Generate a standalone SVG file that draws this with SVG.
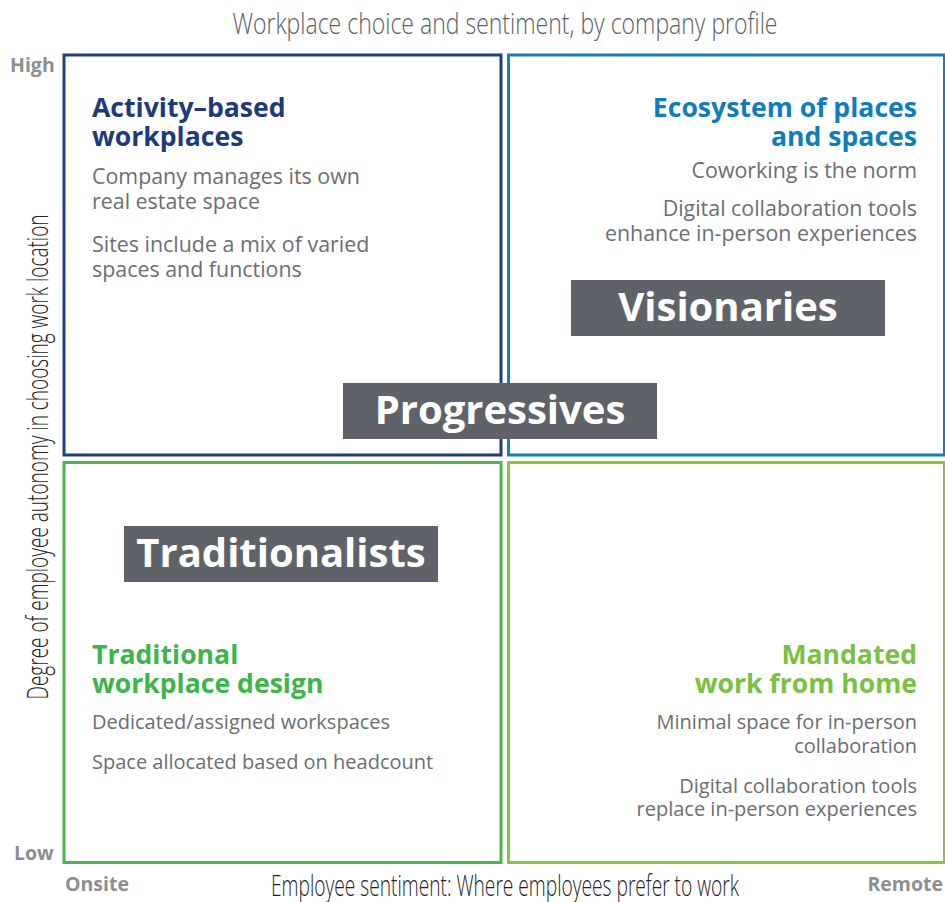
<svg xmlns="http://www.w3.org/2000/svg" width="945" height="902" viewBox="0 0 945 902">
<style>
.q{fill:#fff;stroke-width:3}
.hd{font-family:"Open Sans","Liberation Sans",sans-serif;font-weight:700;font-size:26.6px}
.bd{font-family:"Open Sans","Liberation Sans",sans-serif;font-size:20px;fill:#6b6e73}
.bl{font-size:21.4px}
.tag rect{fill:#5f6369}
.tag text{font-family:"Open Sans","Liberation Sans",sans-serif;font-weight:700;font-size:40px;fill:#fff;text-anchor:middle}
.ax{font-family:"Open Sans","Liberation Sans",sans-serif;font-weight:300;font-size:30px}
.lv{font-family:"Open Sans","Liberation Sans",sans-serif;font-weight:700;font-size:19.5px;fill:#8c8e91}
.r{text-anchor:end}
</style>
<rect width="945" height="902" fill="#fff"/>
<text class="ax" x="505" y="34" text-anchor="middle" fill="#5a5d61" textLength="545" lengthAdjust="spacingAndGlyphs">Workplace choice and sentiment, by company profile</text>
<text class="ax" transform="translate(48,457) rotate(-90)" text-anchor="middle" fill="#222" font-size="28" textLength="485" lengthAdjust="spacingAndGlyphs">Degree of employee autonomy in choosing work location</text>
<text class="ax" x="505" y="896" text-anchor="middle" fill="#222" font-size="28" textLength="468" lengthAdjust="spacingAndGlyphs">Employee sentiment: Where employees prefer to work</text>
<text class="lv" x="10" y="72">High</text>
<text class="lv" x="14" y="860">Low</text>
<text class="lv" x="65" y="891">Onsite</text>
<text class="lv" x="943" y="891" text-anchor="end">Remote</text>
<g id="activity-based">
<rect class="q" x="64" y="55" width="437" height="400" stroke="#1e3f7c"/>
<text class="hd" fill="#1e3a78"><tspan x="92" y="117">Activity–based</tspan><tspan x="92" y="146">workplaces</tspan></text>
<text class="bd bl"><tspan x="92" y="184">Company manages its own</tspan><tspan x="92" y="209">real estate space</tspan><tspan x="92" y="252">Sites include a mix of varied</tspan><tspan x="92" y="277">spaces and functions</tspan></text>
</g>
<g id="ecosystem">
<rect class="q" x="508.5" y="55" width="436" height="400" stroke="#1a7db3"/>
<text class="hd r" fill="#0f7db8"><tspan x="917" y="117">Ecosystem of places</tspan><tspan x="917" y="146">and spaces</tspan></text>
<text class="bd bl r"><tspan x="917" y="178">Coworking is the norm</tspan><tspan x="917" y="216">Digital collaboration tools</tspan><tspan x="917" y="241">enhance in-person experiences</tspan></text>
</g>
<g id="traditional">
<rect class="q" x="64" y="462.5" width="437" height="400" stroke="#4cb749"/>
<text class="hd" fill="#3db54a"><tspan x="92" y="664">Traditional</tspan><tspan x="92" y="693">workplace design</tspan></text>
<text class="bd"><tspan x="92" y="729">Dedicated/assigned workspaces</tspan><tspan x="92" y="769">Space allocated based on headcount</tspan></text>
</g>
<g id="mandated">
<rect class="q" x="508.5" y="462.5" width="436" height="400" stroke="#86c443"/>
<text class="hd r" fill="#7ac143"><tspan x="917" y="664">Mandated</tspan><tspan x="917" y="693">work from home</tspan></text>
<text class="bd r"><tspan x="917" y="729">Minimal space for in-person</tspan><tspan x="917" y="753">collaboration</tspan><tspan x="917" y="793">Digital collaboration tools</tspan><tspan x="917" y="816">replace in-person experiences</tspan></text>
</g>
<g id="visionaries" class="tag"><rect x="571" y="280" width="314" height="56"/><text x="728" y="321">Visionaries</text></g>
<g id="progressives" class="tag"><rect x="343" y="383" width="314" height="56"/><text x="500" y="424">Progressives</text></g>
<g id="traditionalists" class="tag"><rect x="124" y="526" width="314" height="56"/><text x="281" y="567">Traditionalists</text></g>
<g id="connectors"></g>
</svg>
